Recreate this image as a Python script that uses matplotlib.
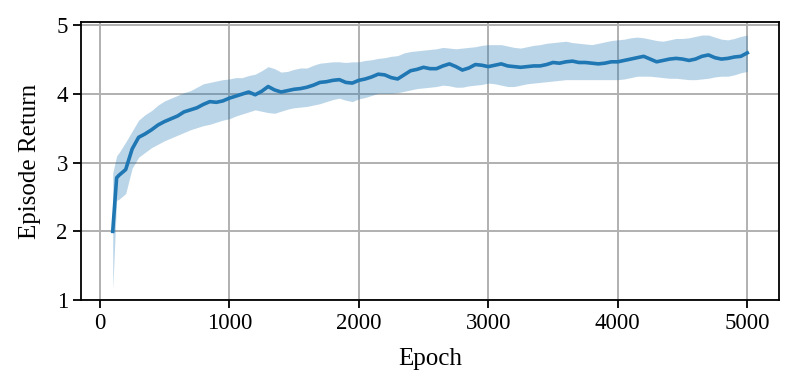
import numpy as np
import matplotlib
matplotlib.use("Agg")
import matplotlib.pyplot as plt

plt.rcParams['font.family'] = 'serif'
plt.rcParams['font.serif'] = ['Liberation Serif', 'DejaVu Serif']

epochs = [100, 130] + list(range(150, 5001, 50))

mean_return = [
    2.00, 2.78, 2.82, 2.90, 3.20, 3.37, 3.42, 3.48, 3.55, 3.60,
    3.64, 3.68, 3.74, 3.77, 3.80, 3.85, 3.89, 3.88, 3.90, 3.94,
    3.97, 4.00, 4.03, 3.99, 4.04, 4.11, 4.06, 4.03, 4.05, 4.07,
    4.08, 4.10, 4.13, 4.17, 4.18, 4.20, 4.21, 4.17, 4.16, 4.20,
    4.22, 4.25, 4.29, 4.28, 4.24, 4.22, 4.28, 4.34, 4.36, 4.39,
    4.37, 4.37, 4.41, 4.44, 4.40, 4.35, 4.38, 4.43, 4.42, 4.40,
    4.42, 4.44, 4.41, 4.40, 4.39, 4.40, 4.41, 4.41, 4.43, 4.46,
    4.45, 4.47, 4.48, 4.46, 4.46, 4.45, 4.44, 4.45, 4.47, 4.47,
    4.49, 4.51, 4.53, 4.55, 4.51, 4.47, 4.49, 4.51, 4.52, 4.51,
    4.49, 4.51, 4.55, 4.57, 4.53, 4.51, 4.52, 4.54, 4.55, 4.60,
]

upper_return = [
    2.85, 3.10, 3.15, 3.30, 3.46, 3.62, 3.70, 3.76, 3.84, 3.90,
    3.94, 3.98, 4.02, 4.05, 4.10, 4.15, 4.17, 4.19, 4.21, 4.22,
    4.24, 4.24, 4.27, 4.29, 4.34, 4.40, 4.37, 4.32, 4.33, 4.36,
    4.38, 4.38, 4.42, 4.45, 4.46, 4.47, 4.47, 4.46, 4.47, 4.47,
    4.49, 4.50, 4.52, 4.53, 4.55, 4.56, 4.60, 4.62, 4.63, 4.64,
    4.65, 4.66, 4.68, 4.67, 4.66, 4.67, 4.68, 4.69, 4.71, 4.72,
    4.72, 4.72, 4.70, 4.68, 4.67, 4.69, 4.71, 4.72, 4.74, 4.75,
    4.76, 4.77, 4.75, 4.74, 4.73, 4.72, 4.74, 4.76, 4.78, 4.79,
    4.80, 4.82, 4.83, 4.82, 4.80, 4.78, 4.77, 4.79, 4.81, 4.81,
    4.82, 4.84, 4.86, 4.86, 4.83, 4.80, 4.79, 4.81, 4.84, 4.86,
]

lower_return = [
    1.15, 2.45, 2.47, 2.55, 2.92, 3.08, 3.15, 3.22, 3.27, 3.32,
    3.36, 3.40, 3.44, 3.48, 3.51, 3.54, 3.56, 3.59, 3.62, 3.64,
    3.68, 3.71, 3.74, 3.77, 3.75, 3.73, 3.72, 3.75, 3.78, 3.80,
    3.81, 3.82, 3.84, 3.86, 3.89, 3.92, 3.94, 3.91, 3.89, 3.93,
    3.95, 3.98, 4.01, 4.01, 4.01, 4.02, 4.04, 4.06, 4.08, 4.09,
    4.10, 4.11, 4.13, 4.12, 4.10, 4.10, 4.12, 4.13, 4.14, 4.16,
    4.15, 4.13, 4.11, 4.11, 4.13, 4.15, 4.16, 4.17, 4.18, 4.19,
    4.20, 4.21, 4.21, 4.21, 4.21, 4.21, 4.21, 4.21, 4.21, 4.21,
    4.22, 4.24, 4.26, 4.26, 4.26, 4.25, 4.24, 4.23, 4.23, 4.22,
    4.21, 4.21, 4.22, 4.23, 4.25, 4.26, 4.26, 4.28, 4.31, 4.33,
]

fig = plt.figure(figsize=(7.98, 3.92), dpi=100)
ax = fig.add_axes([81 / 798, 92 / 392, 698 / 798, 278 / 392])

ax.fill_between(epochs, lower_return, upper_return, color='#1f77b4', alpha=0.3, linewidth=0)
ax.plot(epochs, mean_return, color='#1f77b4', linewidth=2.6)

ax.set_xlim(-145, 5245)
ax.set_ylim(1, 5.05)
ax.set_xticks([0, 1000, 2000, 3000, 4000, 5000])
ax.set_yticks([1, 2, 3, 4, 5])
ax.grid(True, color='#b0b0b0', linewidth=1.4)
ax.set_axisbelow(True)

ax.tick_params(labelsize=16.5, length=6, width=1.3, colors='black')
for s in ax.spines.values():
    s.set_linewidth(1.3)
    s.set_color('black')
ax.set_xlabel('Epoch', fontsize=18, labelpad=10)
ax.set_ylabel('Episode Return', fontsize=18, labelpad=11)

fig.savefig('out.png', dpi=100)
